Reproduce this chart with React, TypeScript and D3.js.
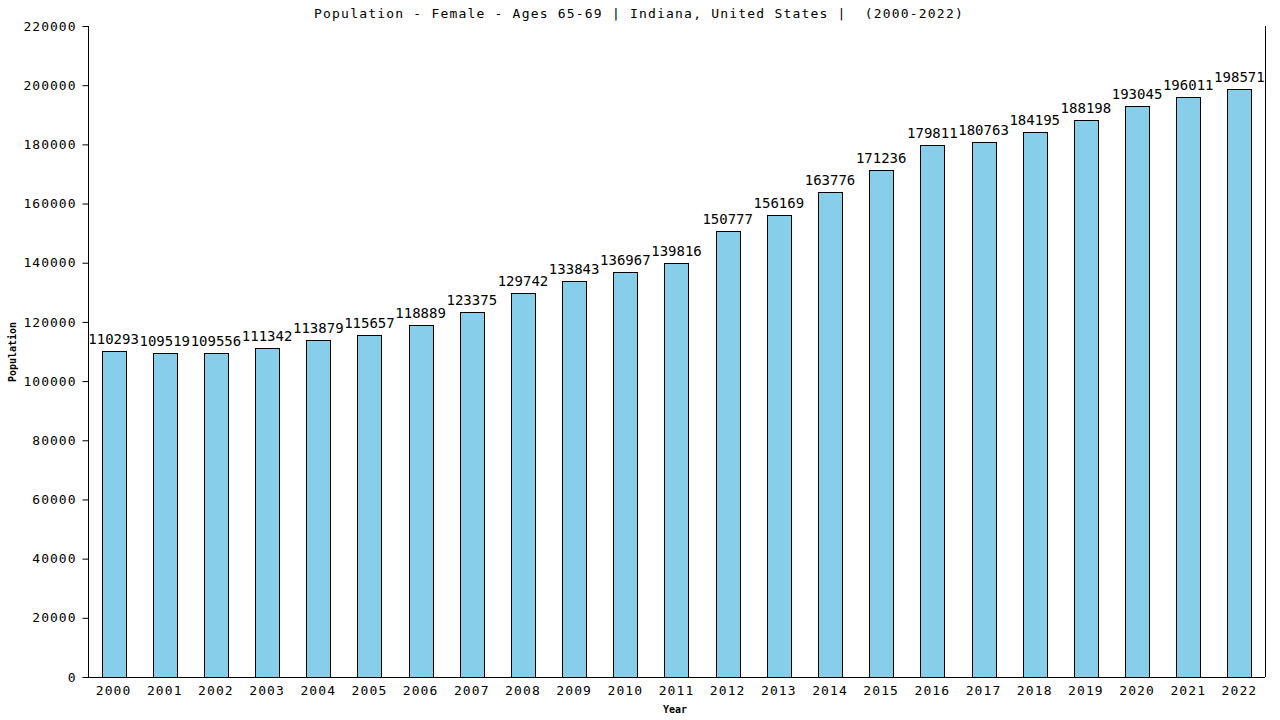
import React, { useEffect, useRef } from 'react';
import * as d3 from 'd3';

const years: string[] = [
  '2000', '2001', '2002', '2003', '2004', '2005', '2006', '2007', '2008', '2009', '2010', '2011',
  '2012', '2013', '2014', '2015', '2016', '2017', '2018', '2019', '2020', '2021', '2022',
];

const population: number[] = [
  110293, 109519, 109556, 111342, 113879, 115657, 118889, 123375, 129742, 133843, 136967, 139816,
  150777, 156169, 163776, 171236, 179811, 180763, 184195, 188198, 193045, 196011, 198571,
];

const yTicks: number[] = [0, 20000, 40000, 60000, 80000, 100000, 120000, 140000, 160000, 180000, 200000, 220000];

const title = 'Population - Female - Ages 65-69 | Indiana, United States |  (2000-2022)';

export default function App() {
  const ref = useRef<SVGSVGElement>(null);

  useEffect(() => {
    const width = 1280;
    const height = 720;
    const margin = { top: 26, right: 15, bottom: 43, left: 88 };
    const font = '"DejaVu Sans Mono", "Liberation Mono", monospace';

    const svg = d3.select(ref.current);
    svg.selectAll('*').remove();

    const xScale = d3
      .scaleBand()
      .domain(years)
      .range([margin.left, width - margin.right])
      .paddingInner(0.53)
      .paddingOuter(0.265);

    const yScale = d3
      .scaleLinear()
      .domain([0, 220000])
      .range([height - margin.bottom, margin.top]);

    // bars
    svg
      .append('g')
      .selectAll('rect')
      .data(population)
      .enter()
      .append('rect')
      .attr('x', (_, i) => Math.round(xScale(years[i]) as number) + 0.5)
      .attr('y', (d) => Math.round(yScale(d)) + 0.5)
      .attr('width', Math.round(xScale.bandwidth()))
      .attr('height', (d) => yScale(0) - Math.round(yScale(d)))
      .attr('fill', '#87ceeb')
      .attr('stroke', '#000')
      .attr('stroke-width', 1);

    // value labels
    svg
      .append('g')
      .selectAll('text')
      .data(population)
      .enter()
      .append('text')
      .attr('x', (_, i) => (xScale(years[i]) as number) + xScale.bandwidth() / 2)
      .attr('y', (d) => yScale(d) - 7)
      .attr('text-anchor', 'middle')
      .attr('font-family', font)
      .attr('font-size', 14)
      .attr('fill', '#000')
      .text((d) => d);

    // y axis
    const yAxis = d3
      .axisLeft(yScale)
      .tickValues(yTicks)
      .tickSize(6)
      .tickPadding(6)
      .tickFormat((d) => String(d));

    const yg = svg
      .append('g')
      .attr('transform', `translate(${margin.left + 0.5}, 0)`)
      .call(yAxis);
    yg.select('.domain').attr('d', `M0,${margin.top}V${height - margin.bottom}`);
    yg.selectAll('text')
      .attr('font-family', font)
      .attr('font-size', 13)
      .attr('letter-spacing', 1)
      .attr('fill', '#000');

    // x axis
    const xAxis = d3.axisBottom(xScale).tickSize(0).tickPadding(8);
    const xg = svg
      .append('g')
      .attr('transform', `translate(0, ${height - margin.bottom + 0.5})`)
      .call(xAxis);
    xg.select('.domain').attr('d', `M${margin.left},0H${width - margin.right}`);
    xg.selectAll('text')
      .attr('font-family', font)
      .attr('font-size', 13)
      .attr('letter-spacing', 1.1)
      .attr('fill', '#000');

    // right border
    svg
      .append('line')
      .attr('x1', width - margin.right + 0.5)
      .attr('x2', width - margin.right + 0.5)
      .attr('y1', margin.top)
      .attr('y2', height - margin.bottom)
      .attr('stroke', '#000');

    // title
    svg
      .append('text')
      .attr('x', 639)
      .attr('y', 18)
      .attr('text-anchor', 'middle')
      .attr('font-family', font)
      .attr('font-size', 13)
      .attr('letter-spacing', 1.2)
      .attr('fill', '#000')
      .style('white-space', 'pre')
      .text(title);

    // axis titles
    svg
      .append('text')
      .attr('x', 675)
      .attr('y', 713)
      .attr('text-anchor', 'middle')
      .attr('font-family', font)
      .attr('font-size', 10)
      .attr('font-weight', 'bold')
      .attr('fill', '#000')
      .text('Year');

    svg
      .append('text')
      .attr('transform', `translate(16, 352) rotate(-90)`)
      .attr('text-anchor', 'middle')
      .attr('font-family', font)
      .attr('font-size', 10)
      .attr('font-weight', 'bold')
      .attr('fill', '#000')
      .text('Population');
  }, []);

  return (
    <svg
      ref={ref}
      width={1280}
      height={720}
      style={{ position: 'absolute', left: 0, top: 0, background: '#fff' }}
    />
  );
}
